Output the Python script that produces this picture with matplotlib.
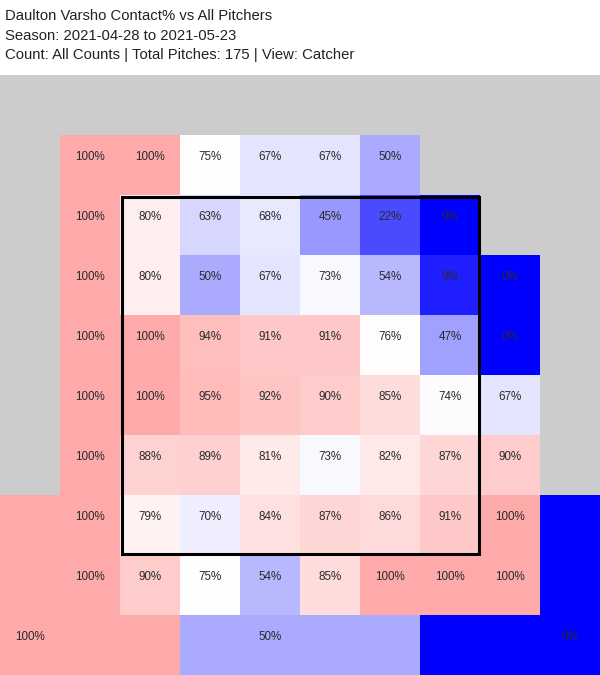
import numpy as np
import matplotlib
matplotlib.use("Agg")
import matplotlib.pyplot as plt
from matplotlib.colors import LinearSegmentedColormap
import matplotlib.patches as patches

# Contact% per zone cell (rows top to bottom, columns left to right), nan = no data
row0 = [np.nan, 100, 100, 75, 67, 67, 50, np.nan, np.nan, np.nan]
row1 = [np.nan, 100, 80, 63, 68, 45, 22, 0, np.nan, np.nan]
row2 = [np.nan, 100, 80, 50, 67, 73, 54, 9, 0, np.nan]
row3 = [np.nan, 100, 100, 94, 91, 91, 76, 47, 0, np.nan]
row4 = [np.nan, 100, 100, 95, 92, 90, 85, 74, 67, np.nan]
row5 = [np.nan, 100, 88, 89, 81, 73, 82, 87, 90, np.nan]
row6 = [100, 100, 79, 70, 84, 87, 86, 91, 100, 0]
row7 = [100, 100, 90, 75, 54, 85, 100, 100, 100, 0]
row8 = [100, 100, 100, 50, 50, 50, 50, 0, 0, 0]
# cells that belong to a bigger outer zone and carry no label
unlabeled = [(6, 0), (7, 0), (6, 9), (7, 9),
             (8, 1), (8, 2), (8, 3), (8, 5), (8, 6), (8, 7), (8, 8)]

title_lines = ["Daulton Varsho Contact% vs All Pitchers",
               "Season: 2021-04-28 to 2021-05-23",
               "Count: All Counts | Total Pitches: 175 | View: Catcher"]

vals = np.array([row0, row1, row2, row3, row4, row5, row6, row7, row8], dtype=float)
nrows, ncols = vals.shape

W, H = 600, 675
cell = 60
grid_top = 135

fig = plt.figure(figsize=(W / 100, H / 100), dpi=100)
ax = fig.add_axes([0, 0, 1, 1])
ax.set_xlim(0, W)
ax.set_ylim(H, 0)
ax.axis('off')

# gray plot background under the title
ax.add_patch(patches.Rectangle((0, 75), W, H - 75, facecolor='#cccccc', edgecolor='none', zorder=0))

cmap = LinearSegmentedColormap.from_list('bwr_c', ['#0000ff', '#ffffff', '#ff0000'])
x_edges = np.arange(ncols + 1) * cell
y_edges = grid_top + np.arange(nrows + 1) * cell
ax.pcolormesh(x_edges, y_edges, np.ma.masked_invalid(vals), cmap=cmap,
              vmin=0, vmax=150, shading='flat', zorder=1)

for r in range(nrows):
    for c in range(ncols):
        v = vals[r, c]
        if np.isnan(v) or (r, c) in unlabeled:
            continue
        ax.text(c * cell + cell / 2, grid_top + r * cell + 24.5, f"{int(v)}%",
                ha='center', va='baseline', fontsize=8.4, color='#2a2a2a',
                family='Liberation Sans', zorder=3)

# strike zone
ax.add_patch(patches.Rectangle((121.5, 196.5), 357, 357, linewidth=2.2,
                               edgecolor='black', facecolor='none', zorder=4))

for i, line in enumerate(title_lines):
    ax.text(5, 19.5 + 20 * i, line, ha='left', va='baseline', fontsize=10.75,
            color='#222222', family='Liberation Sans')

fig.savefig('out.png', dpi=100)
